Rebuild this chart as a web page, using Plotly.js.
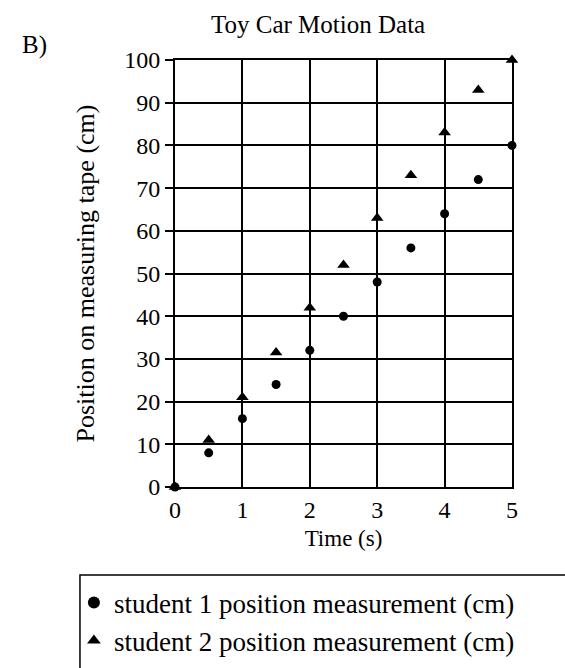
<!DOCTYPE html>
<html>
<head>
<meta charset="utf-8">
<script src="https://cdn.plot.ly/plotly-3.0.1.min.js"></script>
<style>html,body{margin:0;padding:0;background:#fff;}</style>
</head>
<body>
<div id="chart" style="width:565px;height:668px;"></div>
<script>
var timeS = [0, 0.5, 1, 1.5, 2, 2.5, 3, 3.5, 4, 4.5, 5];
var student1 = [0, 8, 16, 24, 32, 40, 48, 56, 64, 72, 80];
var student2 = [0, 11, 21, 31.5, 42, 52, 63, 73, 83, 93, 100];
var xTicks = [0, 1, 2, 3, 4, 5];
var yTicks = [0, 10, 20, 30, 40, 50, 60, 70, 80, 90, 100];
var seriesNames = ['student 1 position measurement (cm)', 'student 2 position measurement (cm)'];

var serif = 'Liberation Serif, DejaVu Serif, serif';

var traces = [
  {x: timeS, y: student1, name: seriesNames[0], type: 'scatter', mode: 'markers',
   marker: {symbol: 'circle', size: 9, color: '#000'}, cliponaxis: false},
  {x: timeS, y: student2, name: seriesNames[1], type: 'scatter', mode: 'markers',
   marker: {symbol: 'triangle-up', size: 11, color: '#000'}, cliponaxis: false}
];

var layout = {
  width: 565, height: 668,
  margin: {l: 175, r: 53, t: 60, b: 181, autoexpand: false},
  paper_bgcolor: '#fff', plot_bgcolor: '#fff',
  font: {family: serif, color: '#000', size: 22},
  title: {text: 'Toy Car Motion Data', x: 0.563, xanchor: 'center', y: 0.963, yanchor: 'middle',
          font: {family: serif, size: 25, color: '#000'}},
  xaxis: {range: [0, 5], tickvals: xTicks, ticktext: xTicks.map(String),
          showgrid: true, gridcolor: '#000', gridwidth: 2,
          showline: true, linecolor: '#000', linewidth: 2, mirror: true,
          zeroline: false, ticks: '', tickfont: {family: serif, size: 24},
          title: {text: 'Time (s)', standoff: 8, font: {family: serif, size: 23}}},
  yaxis: {range: [0, 100], tickvals: yTicks, ticktext: yTicks.map(String),
          showgrid: true, gridcolor: '#000', gridwidth: 2,
          showline: true, linecolor: '#000', linewidth: 2, mirror: true,
          zeroline: false, ticks: 'outside', ticklen: 8, tickwidth: 2, tickcolor: '#000',
          tickfont: {family: serif, size: 24},
          title: {text: 'Position on measuring tape (cm)', standoff: 22, font: {family: serif, size: 26}}},
  showlegend: true,
  legend: {x: -0.30, xanchor: 'left', y: -0.214, yanchor: 'top',
           font: {family: serif, size: 27, color: '#000'},
           bgcolor: 'rgba(0,0,0,0)', borderwidth: 0, itemsizing: 'constant',
           tracegroupgap: 0},
  shapes: [
    {type: 'rect', xref: 'paper', yref: 'paper', x0: -0.282, x1: 1.3, y0: -0.5, y1: -0.206,
     line: {color: '#000', width: 1.5}, fillcolor: 'rgba(0,0,0,0)'}
  ],
  annotations: [
    {text: 'B)', xref: 'paper', yref: 'paper', x: -0.46, y: 1.035, xanchor: 'left', yanchor: 'middle',
     showarrow: false, font: {family: serif, size: 25, color: '#000'}}
  ]
};

Plotly.newPlot('chart', traces, layout, {displayModeBar: false, responsive: false});
</script>
</body>
</html>
